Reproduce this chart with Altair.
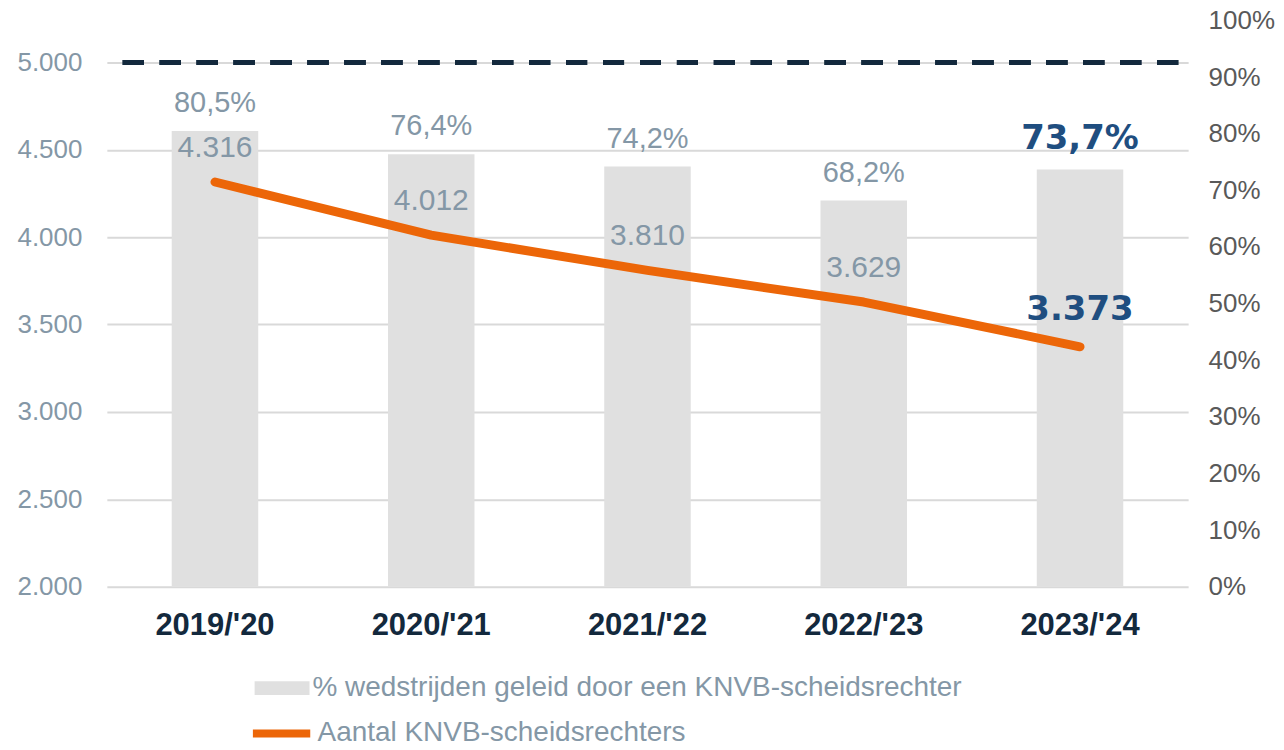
import altair as alt
import pandas as pd

seasons = ["2019/'20", "2020/'21", "2021/'22", "2022/'23", "2023/'24"]
pct = [80.5, 76.4, 74.2, 68.2, 73.7]
count = [4316, 4012, 3810, 3629, 3373]
target = 5000
left_ticks = [2000, 2500, 3000, 3500, 4000, 4500, 5000]
right_ticks = [0, 10, 20, 30, 40, 50, 60, 70, 80, 90, 100]
bar_name = "% wedstrijden geleid door een KNVB-scheidsrechter"
line_name = "Aantal KNVB-scheidsrechters"

df = pd.DataFrame({"season": seasons, "pct": pct, "count": count})
df["last"] = [s == seasons[-1] for s in seasons]
df["pct_label"] = [f"{v:.1f}".replace(".", ",") + "%" for v in pct]
df["count_label"] = [f"{v:,}".replace(",", ".") for v in count]
df["bar_series"] = bar_name
df["line_series"] = line_name

FONT = "Liberation Sans"
GRAY = "#8497a6"
NAVY = "#13293d"
BLUE = "#1f4e80"
ORANGE = "#ec6608"

base = alt.Chart(df)
x = alt.X(
    "season:N", sort=seasons,
    scale=alt.Scale(paddingInner=0.6, paddingOuter=0.3),
    axis=alt.Axis(title=None, labelAngle=0, labelFontSize=31, labelFontWeight="bold",
                  labelColor=NAVY, labelFont=FONT, labelPadding=24, domain=False, ticks=False,
                  grid=False),
)

y_pct = alt.Y(
    "pct:Q", scale=alt.Scale(domain=[0, 100], nice=False, zero=True),
    axis=alt.Axis(orient="right", values=right_ticks, labelExpr="datum.value + '%'", title=None,
                  grid=False, domain=False, ticks=False, labelFontSize=26, labelColor="#595959",
                  labelFont=FONT, labelPadding=20),
)
y_cnt = alt.Y(
    "count:Q", scale=alt.Scale(domain=[2000, 5240], nice=False, zero=False),
    axis=alt.Axis(orient="left", values=left_ticks,
                  labelExpr="replace(format(datum.value, ',d'), ',', '.')", title=None,
                  grid=True, gridColor="#d9d9d9", gridWidth=2, domain=False, ticks=False,
                  labelFontSize=26, labelColor=GRAY, labelFont=FONT, labelPadding=25),
)

bars = base.mark_bar(strokeWidth=0).encode(
    x=x, y=y_pct,
    fill=alt.Fill("bar_series:N", scale=alt.Scale(range=["#e0e0e0"]),
                  legend=alt.Legend(title=None, orient="none", legendX=148, legendY=641,
                                    symbolType="M-1,-0.25H1V0.25H-1Z", symbolSize=3025,
                                    symbolStrokeWidth=0, labelFontSize=28, labelColor=GRAY,
                                    labelFont=FONT, labelOffset=3, labelLimit=1200, padding=0)),
)
bar_text = base.transform_filter("!datum.last").mark_text(
    dy=-28, fontSize=29, font=FONT, color=GRAY).encode(x=x, y=y_pct, text="pct_label:N")
bar_text_last = base.transform_filter("datum.last").mark_text(
    dy=-30, fontSize=34, font="DejaVu Sans", fontWeight="bold", color=BLUE).encode(
    x=x, y=y_pct, text="pct_label:N")

bar_group = alt.layer(bars, bar_text, bar_text_last)

rule = base.mark_rule(strokeDash=[21, 16], strokeDashOffset=27, strokeWidth=5,
                      color=NAVY).encode(y=alt.datum(target))
line = base.mark_line(strokeWidth=9, strokeCap="round", strokeJoin="round").encode(
    x=x, y=y_cnt,
    stroke=alt.Stroke("line_series:N", scale=alt.Scale(range=[ORANGE]),
                      legend=alt.Legend(title=None, orient="none", legendX=142, legendY=681,
                                        symbolType="stroke", symbolSize=3300,
                                        symbolStrokeWidth=8, labelFontSize=28, labelColor=GRAY,
                                        labelFont=FONT, labelOffset=3, labelLimit=1200,
                                        padding=0)),
)
line_text = base.transform_filter("!datum.last").mark_text(
    dy=-34, fontSize=30, font=FONT, color=GRAY).encode(x=x, y=y_cnt, text="count_label:N")
line_text_last = base.transform_filter("datum.last").mark_text(
    dy=-37, fontSize=34, font="DejaVu Sans", fontWeight="bold", color=BLUE).encode(
    x=x, y=y_cnt, text="count_label:N")

line_group = alt.layer(rule, line, line_text, line_text_last)

chart = alt.layer(bar_group, line_group).resolve_scale(
    y="independent", fill="independent", stroke="independent"
).properties(
    width=1083, height=567,
    autosize=alt.AutoSizeParams(type="none"),
    padding={"left": 99, "top": 12, "right": 88, "bottom": 162},
).configure_view(stroke=None)

chart.save("out.html", embed_options={"renderer": "svg", "actions": False})
